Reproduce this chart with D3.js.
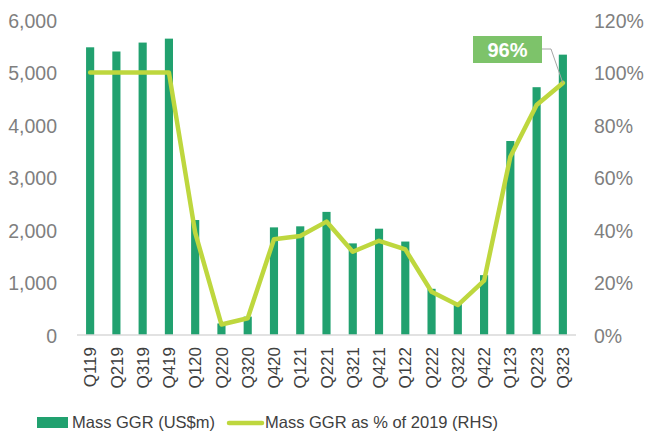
<!DOCTYPE html>
<html>
<head>
<meta charset="utf-8">
<script src="https://cdn.jsdelivr.net/npm/d3@7"></script>
<style>
  body { margin: 0; background: #fff; }
  text { font-family: "Liberation Sans", Arial, sans-serif; }
</style>
</head>
<body>
<svg id="chart" width="646" height="434"></svg>
<script>
  // data
  var quarters = ["Q119","Q219","Q319","Q419","Q120","Q220","Q320","Q420","Q121","Q221",
                  "Q321","Q421","Q122","Q222","Q322","Q422","Q123","Q223","Q323"];
  var massGGR = [5480, 5400, 5570, 5645, 2190, 220, 350, 2050, 2070, 2345,
                 1745, 2025, 1780, 880, 600, 1140, 3695, 4720, 5340];
  var pctOf2019 = [100, 100, 100, 100, 39, 4, 6.4, 36.5, 37.7, 43.2,
                   31.7, 35.9, 32.6, 16.5, 11.4, 20.7, 67.9, 87.6, 96];
  var leftTicks = [0, 1000, 2000, 3000, 4000, 5000, 6000];
  var rightTicks = [0, 20, 40, 60, 80, 100, 120];

  // colours
  var barColor = "#21a16f";
  var lineColor = "#bed73e";
  var labelColor = "#7dc36a";
  var textColor = "#7f7f7f";

  var svg = d3.select("#chart");
  var plotLeft = 77, plotRight = 576, plotTop = 20, plotBottom = 335;

  var x = d3.scaleBand().domain(quarters).range([plotLeft, plotRight]).paddingInner(0.69).paddingOuter(0.345);
  var yL = d3.scaleLinear().domain([0, 6000]).range([plotBottom, plotTop]);
  var yR = d3.scaleLinear().domain([0, 120]).range([plotBottom, plotTop]);

  // bars
  svg.selectAll("rect.bar").data(massGGR).enter().append("rect")
    .attr("class", "bar")
    .attr("x", function(d, i){ return x(quarters[i]); })
    .attr("width", x.bandwidth())
    .attr("y", function(d){ return yL(d); })
    .attr("height", function(d){ return plotBottom - yL(d); })
    .style("fill", barColor);

  // baseline
  svg.append("line")
    .attr("x1", plotLeft).attr("x2", plotRight)
    .attr("y1", plotBottom).attr("y2", plotBottom)
    .style("stroke", "#d9d9d9").style("stroke-width", 1.5);

  // line series
  var line = d3.line()
    .x(function(d, i){ return x(quarters[i]) + x.bandwidth() / 2; })
    .y(function(d){ return yR(d); });
  svg.append("path").datum(pctOf2019)
    .attr("d", line)
    .style("fill", "none")
    .style("stroke", lineColor)
    .style("stroke-width", 4.5)
    .style("stroke-linejoin", "round")
    .style("stroke-linecap", "round");

  // left axis
  var axL = svg.append("g").attr("transform", "translate(" + (plotLeft - 20) + ",0)")
    .call(d3.axisLeft(yL).tickValues(leftTicks).tickFormat(d3.format(",")).tickSize(0).tickPadding(0));
  axL.select(".domain").remove();
  axL.selectAll("text").style("font-size", "19.5px").style("fill", textColor).attr("dy", "0.36em");

  // right axis
  var axR = svg.append("g").attr("transform", "translate(" + (plotRight + 18) + ",0)")
    .call(d3.axisRight(yR).tickValues(rightTicks).tickFormat(function(d){ return d + "%"; }).tickSize(0).tickPadding(0));
  axR.select(".domain").remove();
  axR.selectAll("text").style("font-size", "19.5px").style("fill", textColor).attr("dy", "0.36em");

  // x labels, rotated
  var axX = svg.append("g").attr("transform", "translate(0," + plotBottom + ")")
    .call(d3.axisBottom(x).tickSize(0).tickPadding(0));
  axX.select(".domain").remove();
  axX.selectAll("text")
    .attr("transform", "rotate(-90)")
    .attr("x", -12).attr("y", 0).attr("dy", "0.36em")
    .style("text-anchor", "end")
    .style("font-size", "17px")
    .style("fill", "#404040");

  // callout for last point
  var last = pctOf2019.length - 1;
  var px = x(quarters[last]) + x.bandwidth() / 2, py = yR(pctOf2019[last]);
  svg.append("polyline")
    .attr("points", [[542, 49], [551, 49], [px, py]].join(" "))
    .style("fill", "none").style("stroke", "#a6a6a6").style("stroke-width", 1);
  svg.append("rect")
    .attr("x", 473).attr("y", 36).attr("width", 69).attr("height", 27)
    .style("fill", labelColor);
  svg.append("text")
    .attr("x", 507.5).attr("y", 49.5).attr("dy", "0.36em")
    .style("text-anchor", "middle").style("font-size", "20px").style("font-weight", "bold")
    .style("fill", "#fff")
    .text(pctOf2019[last] + "%");

  // legend
  var lg = svg.append("g");
  lg.append("rect").attr("x", 37).attr("y", 417).attr("width", 31).attr("height", 11).style("fill", barColor);
  lg.append("text").attr("x", 72).attr("y", 422.5).attr("dy", "0.36em")
    .style("font-size", "16.5px").style("fill", "#404040").text("Mass GGR (US$m)");
  lg.append("line").attr("x1", 229).attr("x2", 262).attr("y1", 423).attr("y2", 423)
    .style("stroke", lineColor).style("stroke-width", 4.5).style("stroke-linecap", "round");
  lg.append("text").attr("x", 265).attr("y", 422.5).attr("dy", "0.36em")
    .style("font-size", "16.5px").style("fill", "#404040").text("Mass GGR as % of 2019 (RHS)");
</script>
</body>
</html>
